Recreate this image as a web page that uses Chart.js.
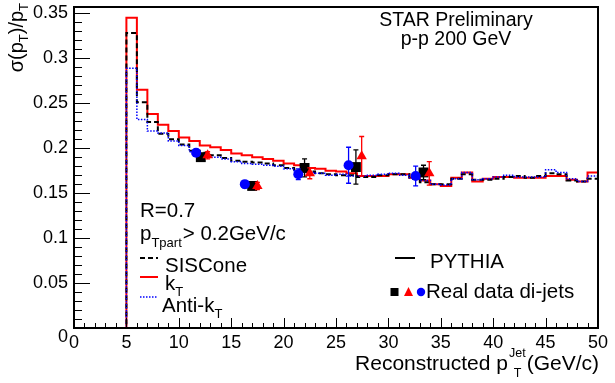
<!DOCTYPE html>
<html>
<head>
<meta charset="utf-8">
<script src="https://cdn.jsdelivr.net/npm/chart.js@4.4.0/dist/chart.umd.min.js"></script>
<style>
  html, body { margin: 0; padding: 0; background: #fff; }
  #wrap { width: 615px; height: 383px; }
</style>
</head>
<body>
<div id="wrap"><canvas id="c" width="615" height="383"></canvas></div>
<script>
// bin low edges (1 GeV bins) and histogram contents
const binLow = [0,1,2,3,4,5,6,7,8,9,10,11,12,13,14,15,16,17,18,19,20,21,22,23,24,25,26,27,28,29,
                30,31,32,33,34,35,36,37,38,39,40,41,42,43,44,45,46,47,48,49];
const histEnd = 50;

const kT = [0,0,0,0,0,0.345,0.265,0.238,0.226,0.219,0.212,0.208,0.203,0.201,0.198,0.194,0.192,0.190,0.188,0.186,
            0.183,0.181,0.178,0.177,0.175,0.174,0.172,0.169,0.169,0.169,0.171,0.171,0.167,0.164,0.160,
            0.158,0.167,0.173,0.163,0.166,0.168,0.168,0.167,0.167,0.167,0.169,0.169,0.165,0.163,0.173];
const sisCone = [0,0,0,0,0,0.328,0.251,0.229,0.216,0.210,0.204,0.197,0.195,0.192,0.189,0.186,0.185,0.184,0.183,0.181,
            0.178,0.176,0.174,0.172,0.171,0.170,0.170,0.168,0.168,0.170,0.171,0.171,0.166,0.162,0.160,
            0.160,0.166,0.171,0.165,0.165,0.166,0.168,0.169,0.167,0.169,0.172,0.171,0.164,0.163,0.166];
const antiKT = [0,0,0,0,0,0.289,0.232,0.219,0.217,0.208,0.203,0.196,0.193,0.190,0.188,0.185,0.183,0.182,0.181,0.180,
            0.177,0.175,0.173,0.172,0.170,0.171,0.169,0.169,0.170,0.171,0.172,0.170,0.167,0.164,0.160,
            0.159,0.166,0.173,0.165,0.166,0.168,0.170,0.168,0.168,0.168,0.176,0.173,0.166,0.163,0.169];

// real data di-jets (slightly shifted in x for visibility)
const sqX = [12.1, 17.0, 22.0, 26.9, 33.35];
const sqY = [0.190, 0.158, 0.178, 0.179, 0.173];
const sqErr = [0.004, 0.004, 0.010, 0.019, 0.008];
const triX = [12.75, 17.5, 22.5, 27.45, 33.9];
const triY = [0.192, 0.158, 0.172, 0.191, 0.172];
const triErr = [0.004, 0.004, 0.006, 0.022, 0.013];
const cirX = [11.65, 16.3, 21.4, 26.2, 32.6];
const cirY = [0.195, 0.160, 0.171, 0.181, 0.169];
const cirErr = [0.004, 0.004, 0.006, 0.020, 0.011];

const xTicks = [0,5,10,15,20,25,30,35,40,45,50];
const yTicks = [0,0.05,0.1,0.15,0.2,0.25,0.3,0.35];
const yTickLabels = ['0','0.05','0.1','0.15','0.2','0.25','0.3','0.35'];

const FONT = "'Liberation Sans', Arial, Helvetica, sans-serif";

function histPoints(vals) {
  const pts = binLow.map((x, i) => ({ x: x, y: vals[i] }));
  pts.push({ x: histEnd, y: vals[vals.length - 1] });
  return pts;
}
function markerPoints(xs, ys) {
  return xs.map((x, i) => ({ x: x, y: ys[i] }));
}

// error bars drawn just before each marker set
const errorBars = {
  id: 'errorBars',
  beforeDatasetDraw(chart, args) {
    const ds = chart.data.datasets[args.index];
    if (!ds.err) return;
    const ctx = chart.ctx, ys = chart.scales.y;
    const meta = chart.getDatasetMeta(args.index);
    ctx.save();
    ctx.strokeStyle = ds.errColor;
    ctx.lineWidth = 1.3;
    meta.data.forEach((pt, i) => {
      const v = ds.data[i].y, e = ds.err[i];
      const top = ys.getPixelForValue(v + e), bot = ys.getPixelForValue(v - e);
      ctx.beginPath();
      ctx.moveTo(pt.x, top); ctx.lineTo(pt.x, bot);
      ctx.moveTo(pt.x - 2.5, top); ctx.lineTo(pt.x + 2.5, top);
      ctx.moveTo(pt.x - 2.5, bot); ctx.lineTo(pt.x + 2.5, bot);
      ctx.stroke();
    });
    ctx.restore();
  }
};

function txt(ctx, s, x, y, size, align) {
  ctx.font = size + 'px ' + FONT;
  ctx.textAlign = align || 'left';
  ctx.fillText(s, x, y);
  return ctx.measureText(s).width;
}

// ROOT-like frame, inward ticks, titles and legend
const rootDecor = {
  id: 'rootDecor',
  afterDraw(chart) {
    const ctx = chart.ctx, ca = chart.chartArea;
    const xs = chart.scales.x, ys = chart.scales.y;
    ctx.save();
    ctx.strokeStyle = '#000';
    ctx.fillStyle = '#000';
    ctx.textBaseline = 'alphabetic';

    // ticks
    ctx.lineWidth = 1;
    ctx.beginPath();
    for (let v = 0; v <= 50; v += 1) {
      const px = Math.round(xs.getPixelForValue(v)) + 0.5;
      const len = v % 5 === 0 ? 10 : 5;
      ctx.moveTo(px, ca.bottom); ctx.lineTo(px, ca.bottom - len);
    }
    for (let k = 0; k <= 35; k++) {
      const py = Math.round(ys.getPixelForValue(k / 100)) + 0.5;
      const len = k % 5 === 0 ? 16 : 8;
      ctx.moveTo(ca.left, py); ctx.lineTo(ca.left + len, py);
    }
    ctx.stroke();

    // frame
    ctx.lineWidth = 2;
    ctx.strokeRect(ca.left, ca.top, ca.right - ca.left, ca.bottom - ca.top);

    // x title, right-aligned to the end of the axis
    let xr = 599;
    xr -= txt(ctx, '(GeV/c)', xr, 370, 21, 'right');
    xr -= 1;
    const wj = txt(ctx, 'Jet', xr, 357, 12.5, 'right');
    const wt = txt(ctx, 'T', xr - (wj - 8) / 2, 377, 12.5, 'right');
    xr -= Math.max(wj, wt) + 1;
    txt(ctx, 'Reconstructed p', xr, 370, 21, 'right');

    // y title (rotated)
    ctx.save();
    ctx.translate(23, 3);
    ctx.rotate(-Math.PI / 2);
    const parts = [['σ(p', 20, 0], ['T', 13, 5], [')/p', 20, 0], ['T', 13, 5]];
    let total = 0;
    parts.forEach(p => { ctx.font = p[1] + 'px ' + FONT; total += ctx.measureText(p[0]).width; });
    let cx = -total;
    parts.forEach(p => { cx += txt(ctx, p[0], cx, p[2], p[1], 'left'); });
    ctx.restore();

    // header
    txt(ctx, 'STAR Preliminary', 456, 26, 19.5, 'center');
    txt(ctx, 'p-p 200 GeV', 456, 45, 19.5, 'center');

    // left legend
    txt(ctx, 'R=0.7', 140, 217, 20.5);
    let lx = 140;
    lx += txt(ctx, 'p', lx, 240, 20.5);
    lx += txt(ctx, 'Tpart', lx, 247, 13);
    txt(ctx, '> 0.2GeV/c', lx + 1, 240, 20.5);

    ctx.lineWidth = 2;
    ctx.setLineDash([5, 3]);
    ctx.beginPath(); ctx.moveTo(140, 258); ctx.lineTo(158, 258); ctx.stroke();
    ctx.setLineDash([]);
    txt(ctx, 'SISCone', 165, 272, 20.5);

    ctx.strokeStyle = '#ff0000';
    ctx.beginPath(); ctx.moveTo(140, 277); ctx.lineTo(158, 277); ctx.stroke();
    let kx = 165 + txt(ctx, 'k', 165, 290, 20.5);
    txt(ctx, 'T', kx, 296, 13);

    ctx.strokeStyle = '#0000ff';
    ctx.lineWidth = 1.5;
    ctx.setLineDash([1.5, 1.5]);
    ctx.beginPath(); ctx.moveTo(140, 297); ctx.lineTo(158, 297); ctx.stroke();
    ctx.setLineDash([]);
    let ax = 162 + txt(ctx, 'Anti-k', 162, 312, 20.5);
    txt(ctx, 'T', ax, 318, 13);

    // right legend
    ctx.strokeStyle = '#000';
    ctx.lineWidth = 2;
    ctx.beginPath(); ctx.moveTo(395, 258); ctx.lineTo(415, 258); ctx.stroke();
    txt(ctx, 'PYTHIA', 430, 268, 20.5);
    ctx.fillStyle = '#000';
    ctx.fillRect(390.5, 288, 8, 8);
    ctx.fillStyle = '#ff0000';
    ctx.beginPath(); ctx.moveTo(408.5, 287); ctx.lineTo(413, 296); ctx.lineTo(404, 296); ctx.closePath(); ctx.fill();
    ctx.fillStyle = '#0000ff';
    ctx.beginPath(); ctx.arc(421, 292, 4.2, 0, Math.PI * 2); ctx.fill();
    ctx.fillStyle = '#000';
    txt(ctx, 'Real data di-jets', 426, 298, 20.5);

    ctx.restore();
  }
};

const ctx = document.getElementById('c').getContext('2d');
new Chart(ctx, {
  type: 'line',
  data: {
    datasets: [
      { label: 'circles', data: markerPoints(cirX, cirY), err: cirErr, errColor: '#0000ff',
        showLine: false, pointStyle: 'circle', pointRadius: 5, pointBackgroundColor: '#0000ff',
        pointBorderColor: '#0000ff', pointBorderWidth: 0, order: 1 },
      { label: 'triangles', data: markerPoints(triX, triY), err: triErr, errColor: '#ff0000',
        showLine: false, pointStyle: 'triangle', pointRadius: 6, pointBackgroundColor: '#ff0000',
        pointBorderColor: '#ff0000', pointBorderWidth: 0, order: 2 },
      { label: 'squares', data: markerPoints(sqX, sqY), err: sqErr, errColor: '#000000',
        showLine: false, pointStyle: 'rect', pointRadius: 7, pointBackgroundColor: '#000000',
        pointBorderColor: '#000000', pointBorderWidth: 0, order: 3 },
      { label: 'Anti-kT', data: histPoints(antiKT), stepped: 'before', borderColor: '#0000ff',
        borderWidth: 1.5, borderDash: [1.5, 1.5], pointRadius: 0, fill: false, order: 4 },
      { label: 'SISCone', data: histPoints(sisCone), stepped: 'before', borderColor: '#000000',
        borderWidth: 2, borderDash: [5, 3], pointRadius: 0, fill: false, order: 5 },
      { label: 'kT', data: histPoints(kT), stepped: 'before', borderColor: '#ff0000',
        borderWidth: 2, pointRadius: 0, fill: false, order: 6 }
    ]
  },
  options: {
    responsive: false,
    animation: false,
    devicePixelRatio: 1,
    layout: { padding: { top: 2, right: 17, left: 0, bottom: 0 } },
    plugins: { legend: { display: false }, tooltip: { enabled: false } },
    scales: {
      x: {
        type: 'linear', min: 0, max: 50,
        grid: { display: false, drawTicks: false }, border: { display: false },
        afterBuildTicks: s => { s.ticks = xTicks.map(v => ({ value: v })); },
        afterFit: s => { s.height = 55; s.paddingLeft = 0; s.paddingRight = 0; },
        ticks: { font: { family: FONT, size: 18 }, color: '#000', padding: 4, maxRotation: 0, autoSkip: false }
      },
      y: {
        type: 'linear', min: 0, max: 0.357,
        grid: { display: false, drawTicks: false }, border: { display: false },
        afterBuildTicks: s => { s.ticks = yTicks.map(v => ({ value: v })); },
        afterFit: s => { s.width = 74; s.paddingTop = 0; s.paddingBottom = 0; },
        ticks: { font: { family: FONT, size: 18, lineHeight: 1 }, color: '#000', padding: 6, autoSkip: false,
                 // the origin label sits a little below its tick, as in the original
                 callback: (v, i) => (i === 0 ? ['', yTickLabels[i]] : yTickLabels[i]) }
      }
    }
  },
  plugins: [errorBars, rootDecor]
});
</script>
</body>
</html>
